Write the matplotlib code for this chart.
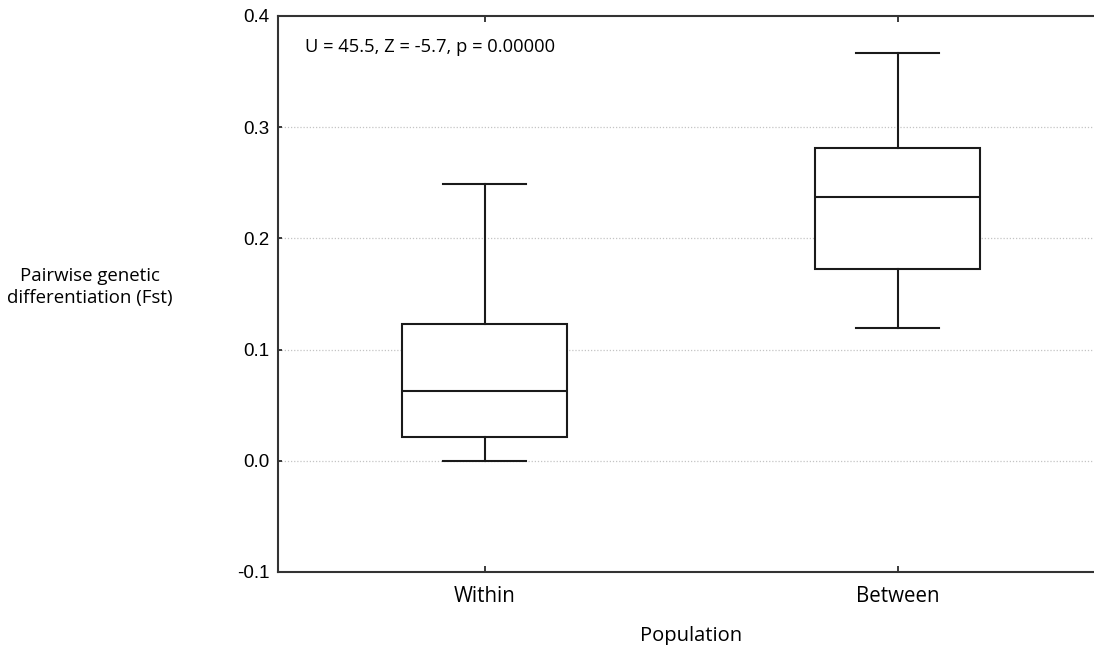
import matplotlib
matplotlib.use('Agg')
import matplotlib.pyplot as plt

# box statistics
groups = ['Within', 'Between']
whislo = [0.000, 0.1195]
q1 = [0.0216, 0.1722]
med = [0.0631, 0.2376]
q3 = [0.1230, 0.2809]
whishi = [0.2488, 0.3665]
yticks = [-0.1, 0.0, 0.1, 0.2, 0.3, 0.4]
note = 'U = 45.5, Z = -5.7, p = 0.00000'

stats = []
for i in range(len(groups)):
    stats.append(dict(label=groups[i], whislo=whislo[i], q1=q1[i], med=med[i],
                      q3=q3[i], whishi=whishi[i], fliers=[]))

W, H = 1094, 645
fig = plt.figure(figsize=(W / 100, H / 100), dpi=100)
ax = fig.add_axes([278 / W, 73 / H, 826 / W, 556 / H])

lc = '#1a1a1a'
ax.bxp(stats, positions=[1, 2], widths=0.40, patch_artist=True,
       boxprops=dict(facecolor='white', edgecolor=lc, linewidth=1.5),
       medianprops=dict(color=lc, linewidth=1.5),
       whiskerprops=dict(color=lc, linewidth=1.5),
       capprops=dict(color=lc, linewidth=1.5),
       capwidths=0.2, zorder=3)

ax.set_xlim(0.5, 2.5)
ax.set_ylim(-0.1, 0.4)
ax.set_yticks(yticks)
ax.set_yticklabels(['%.1f' % v for v in yticks], fontfamily='Liberation Sans', fontsize=13.5)
ax.set_xticks([1, 2])
ax.set_xticklabels(groups, fontfamily='Open Sans', fontsize=14.8)

for v in yticks[1:-1]:
    ax.axhline(v, color='#c4c4c4', linewidth=0.9, linestyle=(0, (1, 1.5)), zorder=1)

ax.tick_params(axis='y', direction='in', length=3, width=1.2, color=lc, pad=6)
ax.tick_params(axis='x', direction='in', length=4, width=1.2, color=lc, pad=10,
               top=True)
for s in ax.spines.values():
    s.set_color('#333333')
    s.set_linewidth(1.5)

ax.set_xlabel('Population', fontfamily='Open Sans', fontsize=14.5, labelpad=14)
ax.set_ylabel('Pairwise genetic\ndifferentiation (Fst)', fontfamily='Open Sans',
              fontsize=13.4, rotation=0, ha='center', va='center', linespacing=1.35)
ax.yaxis.set_label_coords(-0.2276, 0.5126)

ax.text(0.0327, 0.944, note, transform=ax.transAxes, fontfamily='Open Sans',
        fontsize=13.2, ha='left', va='center')

fig.savefig('out.png', dpi=100)
